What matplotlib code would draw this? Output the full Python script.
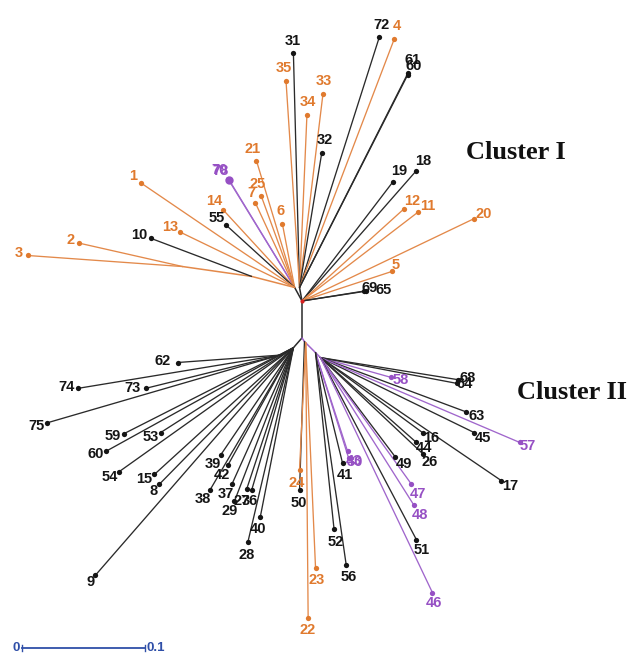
import matplotlib
matplotlib.use('Agg')
import matplotlib.pyplot as plt

# ---------------- data: unrooted tree layout (tree-distance units) ----------------
node_names  = ['A', 'T', 'L', 'N10', 'N23', 'B', 'C', 'C2', 'D', 'O', 'E', 'F']
node_x      = [0.000, -0.002, -0.006, -0.041, -0.097, 0.000, -0.007, -0.018, 0.002, 0.003, 0.011, 0.015]
node_y      = [0.000, 0.011, 0.011, 0.020, 0.028, -0.030, -0.038, -0.044, -0.033, -0.034, -0.042, -0.046]
node_parent = [None, 'A', 'A', 'L', 'N10', 'A', 'B', 'C', 'B', 'D', 'D', 'E']
node_group  = ['k', 'k', 'k', 'o', 'o', 'k', 'k', 'k', 'p', 'o', 'p', 'p']

leaf_labels = ['31', '35', '34', '33', '32', '72', '4', '61', '60',
               '21', '78', '70', '25', '7', '14', '6', '55', '1', '13', '10', '2', '3',
               '19', '18', '12', '11', '20', '5', '69', '65',
               '62', '74', '73', '75', '59', '60', '53', '54', '15', '8', '9',
               '39', '42', '38', '37', '29', '27', '36', '40', '28',
               '50', '24', '22', '23',
               '58', '68', '64', '63', '45', '57', '16', '44', '26', '17',
               '49', '47', '48', '51', '46', '41', '30', '43', '52', '56']
leaf_group = ['k', 'o', 'o', 'o', 'k', 'k', 'o', 'k', 'k',
              'o', 'p', 'p', 'o', 'o', 'o', 'o', 'k', 'o', 'o', 'k', 'o', 'o',
              'k', 'k', 'o', 'o', 'o', 'o', 'k', 'k',
              'k', 'k', 'k', 'k', 'k', 'k', 'k', 'k', 'k', 'k', 'k',
              'k', 'k', 'k', 'k', 'k', 'k', 'k', 'k', 'k',
              'k', 'o', 'o', 'o',
              'p', 'k', 'k', 'k', 'k', 'p', 'k', 'k', 'k', 'k',
              'k', 'p', 'p', 'k', 'p', 'k', 'p', 'p', 'k', 'k']
leaf_parent = ['T', 'T', 'T', 'T', 'T', 'T', 'T', 'T', 'T',
               'L', 'L', 'L', 'L', 'L', 'L', 'L', 'L', 'L', 'L', 'N10', 'N23', 'N23',
               'A', 'A', 'A', 'A', 'A', 'A', 'A', 'A',
               'C2', 'C2', 'C2', 'C2', 'C', 'C', 'C', 'C', 'C', 'C', 'C',
               'C', 'C', 'C', 'C', 'C', 'C', 'C', 'C', 'C',
               'D', 'O', 'O', 'O',
               'F', 'F', 'F', 'F', 'F', 'F', 'F', 'F', 'F', 'F',
               'F', 'F', 'F', 'F', 'F', 'E', 'E', 'E', 'E', 'E']
leaf_x = [-0.007, -0.013, 0.004, 0.017, 0.016, 0.063, 0.075, 0.086, 0.086,
          -0.037, -0.059, -0.060, -0.033, -0.038, -0.064, -0.016, -0.062, -0.131, -0.099, -0.123, -0.181, -0.223,
          0.074, 0.093, 0.083, 0.094, 0.140, 0.073, 0.050, 0.052,
          -0.101, -0.182, -0.127, -0.207, -0.145, -0.159, -0.115, -0.149, -0.120, -0.116, -0.168,
          -0.066, -0.060, -0.075, -0.057, -0.055, -0.045, -0.041, -0.034, -0.044,
          -0.002, -0.002, 0.005, 0.011,
          0.072, 0.127, 0.126, 0.133, 0.140, 0.177, 0.098, 0.093, 0.098, 0.162,
          0.076, 0.089, 0.091, 0.093, 0.106, 0.033, 0.037, 0.038, 0.026, 0.036]
leaf_y = [0.202, 0.179, 0.151, 0.168, 0.120, 0.215, 0.213, 0.185, 0.184,
          0.114, 0.098, 0.099, 0.085, 0.080, 0.074, 0.063, 0.062, 0.096, 0.056, 0.051, 0.047, 0.037,
          0.097, 0.106, 0.075, 0.072, 0.067, 0.024, 0.008, 0.008,
          -0.050, -0.071, -0.071, -0.099, -0.108, -0.122, -0.107, -0.139, -0.141, -0.149, -0.223,
          -0.125, -0.133, -0.154, -0.149, -0.163, -0.153, -0.154, -0.176, -0.196,
          -0.154, -0.137, -0.258, -0.217,
          -0.062, -0.064, -0.067, -0.090, -0.107, -0.115, -0.107, -0.115, -0.124, -0.146,
          -0.127, -0.149, -0.166, -0.194, -0.237, -0.132, -0.122, -0.128, -0.185, -0.215]

cluster_names = ['Cluster I', 'Cluster II']
scale_length = 0.1
scale_labels = ['0', '0.1']

# ---------------- layout / style ----------------
# label offsets in pixels (right, down) from the tip
label_off = [(-1, -12), (-2, -13), (1, -13), (1, -13), (3, -13), (2, -12), (3, -13), (5, -13), (6, -9),
             (-4, -12), (-9, -9), (-9, -9), (-4, -12), (-4, -10), (-9, -9), (-2, -13), (-9, -7), (-8, -7),
             (-10, -5), (-11, -3), (-9, -3), (-9, -2),
             (6, -11), (7, -10), (8, -8), (10, -6), (9, -5), (4, -6), (6, -3), (18, -1),
             (-15, -2), (-12, -1), (-13, 0), (-11, 3), (-11, 2), (-11, 3), (-10, 4), (-9, 5), (-10, 5), (-6, 7), (-5, 7),
             (-8, 9), (-6, 10), (-7, 9), (-6, 10), (-5, 10), (-5, 12), (-2, 11), (-2, 12), (-1, 13),
             (-1, 13), (-3, 13), (-1, 12), (1, 12),
             (10, 3), (9, -2), (8, 1), (11, 4), (9, 5), (8, 4), (9, 5), (8, 6), (7, 8), (9, 5),
             (8, 7), (6, 10), (6, 10), (5, 10), (2, 10), (2, 12), (7, 11), (5, 3), (2, 13), (2, 12)]

colors = {'o': '#E07A2E', 'k': '#151515', 'p': '#9650C4'}
line_colors = {'o': '#E3894A', 'k': '#2a2a2a', 'p': '#A066CC'}
label_font = ['Liberation Sans Narrow', 'Liberation Sans', 'DejaVu Sans']

W, H = 632, 654
PX = 0.1 / 123.0          # tree units per pixel
x0_px, y0_px = 302, 301   # pixel location of node A

fig = plt.figure(figsize=(W / 100, H / 100), dpi=100)
ax = fig.add_axes([0, 0, 1, 1])
ax.set_xlim(-x0_px * PX, (W - x0_px) * PX)
ax.set_ylim(-(H - y0_px) * PX, y0_px * PX)
ax.axis('off')

pos = {n: (x, y) for n, x, y in zip(node_names, node_x, node_y)}

# internal branches
for n, par, g in zip(node_names, node_parent, node_group):
    if par is None:
        continue
    ax.plot([pos[par][0], pos[n][0]], [pos[par][1], pos[n][1]],
            color=line_colors[g], lw=1.1, solid_capstyle='round', zorder=1)

# leaf branches
for lab, g, par, x, y in zip(leaf_labels, leaf_group, leaf_parent, leaf_x, leaf_y):
    ax.plot([pos[par][0], x], [pos[par][1], y], color=line_colors[g], lw=0.95,
            solid_capstyle='round', zorder=2)

# tips and labels
for i, (lab, g, x, y) in enumerate(zip(leaf_labels, leaf_group, leaf_x, leaf_y)):
    ms = 6 if lab == '78' else 3.8
    ax.plot(x, y, 'o', color=colors[g], ms=ms, mec='none', zorder=3)
    dx, dy = label_off[i]
    ax.annotate(lab, (x, y), xytext=(dx, -dy), textcoords='offset pixels',
                ha='center', va='center', fontsize=10.5, fontweight='bold',
                color=colors[g], family=label_font, zorder=4)

# root marker
ax.plot(pos['A'][0], pos['A'][1], 'o', color='#d62020', ms=3, mec='none', zorder=5)

# cluster titles
ax.text((516 - x0_px) * PX, (y0_px - 152) * PX, cluster_names[0], ha='center', va='center',
        fontsize=19, fontweight='bold', family=['Liberation Serif', 'DejaVu Serif'], color='#111111')
ax.text((572 - x0_px) * PX, (y0_px - 392) * PX, cluster_names[1], ha='center', va='center',
        fontsize=19, fontweight='bold', family=['Liberation Serif', 'DejaVu Serif'], color='#111111')

# scale bar
sb_x = (22 - x0_px) * PX
sb_y = (y0_px - 648) * PX
blue = '#2F4FA8'
ax.plot([sb_x, sb_x + scale_length], [sb_y, sb_y], color=blue, lw=1.3)
tick = 3 * PX
for xx in (sb_x, sb_x + scale_length):
    ax.plot([xx, xx], [sb_y - tick, sb_y + tick], color=blue, lw=1.0)
ax.text(sb_x - 2 * PX, sb_y, scale_labels[0], ha='right', va='center', fontsize=9.5,
        fontweight='bold', color=blue, family=label_font)
ax.text(sb_x + scale_length + 1 * PX, sb_y, scale_labels[1], ha='left', va='center', fontsize=9.5,
        fontweight='bold', color=blue, family=label_font)

fig.savefig('out.png', dpi=100)
